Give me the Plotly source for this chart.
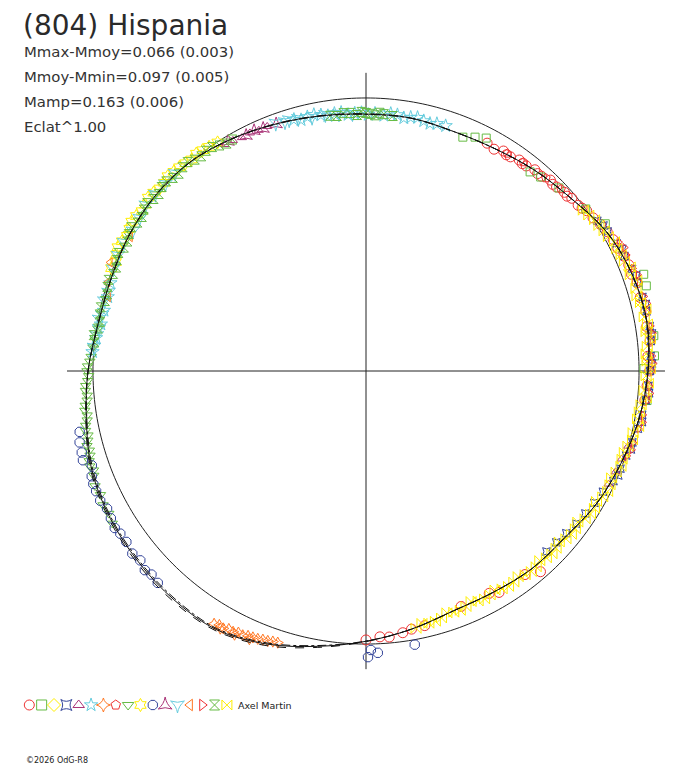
import numpy as np
import plotly.graph_objects as go

# polar light curve of (804) Hispania
# theta = rotational phase (deg), flux = relative brightness (Eclat^1.00)

title = '(804) Hispania'
stats = ['Mmax-Mmoy=0.066 (0.003)',
         'Mmoy-Mmin=0.097 (0.005)',
         'Mamp=0.163 (0.006)',
         'Eclat^1.00']
observer = 'Axel Martin'
credit = '\u00a92026 OdG-R8'

s01_theta = [62, 60, 58, 56, 54, 52, 50, 48, 46, 44, 42, 40, 38, 36, 34, 32, 30, 28, 26, 24, 22, 20,
             18, 15, 12, 9, 6, 3, 0, 357, 354, 311, 308, 301, 299, 292, 283, 280, 278, 275, 273, 270,
             57, 53, 49, 45, 41, 37]
s01_flux = [0.945, 0.938, 0.950, 0.946, 0.955, 0.953, 0.962, 0.960, 0.972, 0.970, 0.978, 0.984, 0.986,
            0.999, 1.003, 1.013, 1.020, 1.025, 1.026, 1.034, 1.038, 1.035, 1.044, 1.040, 1.048, 1.041,
            1.046, 1.034, 1.039, 1.031, 1.027, 0.974, 0.946, 0.946, 0.931, 0.930, 0.957, 0.960, 0.968,
            0.978, 0.975, 0.985, 0.944, 0.951, 0.958, 0.967, 0.976, 0.991]

s02_theta = [67.5, 65, 62.7, 50.5, 48, 43.5, 36.4, 31.6, 19.2, 16.9, 7, 3, 0.5, 354]
s02_flux = [0.927, 0.945, 0.960, 0.945, 0.956, 0.974, 1.000, 1.029, 1.077, 1.073, 1.062, 1.058, 1.018, 1.035]

s03_theta = [25, 21, 14, 8, 2]
s03_flux = [1.028, 1.033, 1.039, 1.040, 1.033]

s04_theta = [33, 30, 27, 24, 21, 18, 15, 12, 9, 6, 3, 0, 357, 354, 351, 348, 345, 342, 339, 336,
             333, 330, 327, 324, 321, 318, 315, 31.5, 25.5, 19.5, 13.5, 7.5, 1.5, 355.5, 349.5,
             343.5, 337.5]
s04_flux = [1.010, 1.022, 1.030, 1.036, 1.044, 1.046, 1.048, 1.050, 1.052, 1.049, 1.044, 1.040, 1.036,
            1.030, 1.024, 1.018, 1.010, 1.002, 0.998, 0.992, 0.974, 0.966, 0.958, 0.952, 0.944, 0.938,
            0.935, 1.020, 1.040, 1.050, 1.054, 1.056, 1.048, 1.040, 1.028, 1.012, 1.000]

s05_theta = [122, 120, 118, 116, 114, 112, 344, 341, 338, 335, 8, 2]
s05_flux = [0.978, 0.975, 0.968, 0.970, 0.965, 0.966, 0.999, 0.990, 0.986, 0.980, 1.050, 1.045]

s06_theta = [106, 103, 100, 97, 94, 91, 88, 86, 83, 80, 77, 74, 72, 176, 173, 170, 167, 164, 161,
             104.5, 101.5, 98.5, 95.5, 92.5, 89.5, 84.5, 81.5, 78.5, 75.5]
s06_flux = [0.958, 0.955, 0.952, 0.950, 0.941, 0.946, 0.944, 0.938, 0.945, 0.943, 0.940, 0.942, 0.944,
            1.004, 0.996, 0.986, 0.985, 0.984, 0.990, 0.950, 0.958, 0.945, 0.951, 0.945, 0.939, 0.947,
            0.937, 0.947, 0.936]

s07_theta = [239, 240, 241, 242, 243, 244, 245, 246, 247, 248, 249, 250, 251, 252, 240.5, 243.5, 246.5]
s07_flux = [1.080, 1.074, 1.078, 1.070, 1.072, 1.066, 1.068, 1.062, 1.060, 1.058, 1.054, 1.052, 1.048,
            1.046, 1.084, 1.079, 1.071]

s08_theta = [57, 53, 47, 43]
s08_flux = [0.950, 0.958, 0.966, 0.977]

s09_theta = [177, 179, 181, 183, 185, 187, 189, 191, 193, 195, 197, 199, 201, 203, 205, 207, 209, 211,
             150, 145, 140, 178, 180, 182, 184, 186, 188, 190, 192, 194, 196, 198, 200, 171, 173, 175]
s09_flux = [1.008, 1.020, 1.016, 1.028, 1.025, 1.036, 1.034, 1.046, 1.045, 1.058, 1.057, 1.070, 1.068,
            1.078, 1.073, 1.081, 1.077, 1.084, 1.004, 0.998, 1.008, 1.012, 1.022, 1.020, 1.030, 1.027,
            1.040, 1.037, 1.050, 1.050, 1.054, 1.066, 1.062, 0.994, 1.000, 1.004]

s10_theta = [158, 155, 152, 149, 146, 143, 140, 137, 134, 131, 128, 125, 123, 156.5, 153.5, 150.5,
             147.5, 144.5, 141.5, 138.5, 135.5, 132.5, 129.5, 126.5]
s10_flux = [1.006, 1.009, 1.012, 1.010, 1.015, 1.012, 1.016, 1.011, 1.014, 1.008, 1.010, 1.002, 0.998,
            1.000, 1.016, 1.005, 1.018, 1.008, 1.020, 1.009, 1.018, 1.012, 1.004, 1.006]

s11_theta = [192, 194, 196, 197.5, 199, 201, 202.5, 204, 206, 208, 210, 212, 213.5, 215.5, 218, 220,
             222, 223.5, 225.5, 270.4, 271, 272.4, 280.1]
s11_flux = [1.072, 1.081, 1.083, 1.087, 1.062, 1.076, 1.081, 1.082, 1.083, 1.074, 1.079, 1.085, 1.079,
            1.078, 1.086, 1.079, 1.090, 1.083, 1.088, 1.048, 1.022, 1.033, 1.018]

s12_theta = [121, 117, 115, 113, 110]
s12_flux = [0.980, 0.967, 0.970, 0.964, 0.962]

s13_theta = [108, 105, 102, 99, 96, 93, 175, 171, 168, 165, 158, 152, 146, 140, 134, 110, 107, 172.5,
             169, 163, 155, 149, 143, 137]
s13_flux = [0.960, 0.957, 0.950, 0.951, 0.947, 0.944, 1.000, 0.990, 0.988, 0.992, 0.998, 1.004, 1.000,
            1.007, 1.006, 0.966, 0.962, 0.994, 0.996, 0.986, 1.002, 0.996, 1.010, 1.004]

s14_theta = [150.4, 157, 164, 161]
s14_flux = [0.993, 1.018, 0.982, 1.000]

s15_theta = [27, 24, 21, 18, 15, 12, 9, 6, 3, 0, 357, 354, 351, 348, 345, 342, 25.5, 19.5, 13.5,
             7.5, 1.5, 355.5, 349.5, 343.5]
s15_flux = [1.040, 1.045, 1.048, 1.052, 1.055, 1.054, 1.056, 1.053, 1.050, 1.047, 1.040, 1.036, 1.028,
            1.022, 1.014, 1.006, 1.050, 1.057, 1.060, 1.060, 1.054, 1.045, 1.032, 1.016]

s16_theta = [98, 95, 92, 90, 88, 86, 84, 174, 171, 168, 165, 162, 159, 156, 153, 150, 147, 144, 141,
             138, 135, 132, 129, 126, 123, 120, 172.5, 169.5, 166.5, 163.5, 160.5, 157.5, 154.5,
             151.5, 148.5, 145.5, 142.5, 139.5, 136.5, 133.5, 130.5, 127.5, 124.5, 121.5, 96.5,
             93.5, 91, 89, 87]
s16_flux = [0.944, 0.948, 0.938, 0.945, 0.937, 0.943, 0.939, 1.000, 0.994, 0.997, 0.990, 0.996, 0.992,
            0.999, 0.995, 1.003, 0.998, 1.006, 1.001, 1.007, 1.000, 1.004, 0.996, 0.997, 0.985, 0.979,
            1.006, 0.990, 0.999, 0.988, 1.000, 0.990, 1.004, 0.994, 1.008, 0.996, 1.010, 0.998, 1.009,
            0.996, 1.006, 0.991, 0.995, 0.977, 0.940, 0.947, 0.949, 0.942, 0.947]

s17_theta = [35, 32, 29, 26, 23, 20, 17, 14, 11, 8, 5, 2, 359, 356, 353, 350, 347, 344, 341, 338, 335,
             332, 329, 326, 323, 320, 317, 314, 311, 308, 305, 302, 299, 296, 293, 290, 287, 284, 281,
             18.5, 12.5, 6.5, 0.5, 354.5, 348.5,
             333.5, 330.5, 327.5, 324.5, 321.5, 318.5, 315.5, 312.5, 309.5, 306.5, 303.5, 300.5,
             297.5, 294.5, 291.5, 288.5, 285.5, 282.5,
             36.5, 33.5, 30.5, 27.5, 24.5, 21.5, 15.5, 9.5, 3.5, 357.5, 351.5, 345.5, 342.5, 339.5,
             336.5]
s17_flux = [0.996, 1.006, 1.015, 1.022, 1.028, 1.030, 1.034, 1.036, 1.038, 1.036, 1.034, 1.030, 1.026,
            1.021, 1.015, 1.010, 1.004, 0.998, 0.992, 0.988, 0.986, 0.982, 0.976, 0.968, 0.960, 0.956,
            0.952, 0.951, 0.950, 0.947, 0.944, 0.941, 0.938, 0.937, 0.937, 0.940, 0.946, 0.952, 0.960,
            1.046, 1.050, 1.048, 1.041, 1.031, 1.019,
            0.989, 0.970, 0.975, 0.953, 0.961, 0.945, 0.955, 0.942, 0.952, 0.937, 0.946, 0.931,
            0.941, 0.928, 0.942, 0.934, 0.951, 0.947,
            0.990, 1.004, 1.012, 1.026, 1.027, 1.040, 1.030, 1.045, 1.028, 1.035, 1.012, 1.008, 0.992,
            0.997, 0.981]

# fitted curves (three solutions)
fit_theta = [0, 10, 20, 30, 40, 50, 60, 70, 80, 90, 100, 110, 120, 130, 140, 150, 160, 170, 180,
             190, 200, 210, 220, 230, 240, 250, 260, 270, 280, 290, 300, 310, 320, 330, 340, 350, 360]
fit_a = [1.033, 1.044, 1.037, 1.018, 0.982, 0.960, 0.941, 0.934, 0.941, 0.941, 0.949, 0.963, 0.982,
         1.000, 1.004, 1.000, 0.993, 0.996, 1.018, 1.040, 1.068, 1.081, 1.088, 1.094, 1.094, 1.064,
         1.024, 0.990, 0.960, 0.935, 0.935, 0.945, 0.950, 0.974, 0.993, 1.015, 1.033]
fit_b = [1.033, 1.044, 1.037, 1.018, 0.982, 0.960, 0.941, 0.934, 0.941, 0.942, 0.950, 0.964, 0.982,
         1.000, 1.004, 1.000, 0.993, 0.996, 1.018, 1.042, 1.072, 1.086, 1.094, 1.100, 1.099, 1.070,
         1.028, 0.991, 0.960, 0.935, 0.935, 0.945, 0.950, 0.974, 0.993, 1.015, 1.033]
fit_c = [1.033, 1.044, 1.037, 1.018, 0.982, 0.960, 0.941, 0.934, 0.940, 0.940, 0.948, 0.962, 0.982,
         1.000, 1.004, 1.000, 0.993, 0.996, 1.018, 1.038, 1.064, 1.077, 1.083, 1.089, 1.090, 1.060,
         1.021, 0.989, 0.960, 0.935, 0.935, 0.945, 0.950, 0.974, 0.993, 1.015, 1.033]

session_theta = [s01_theta, s02_theta, s03_theta, s04_theta, s05_theta, s06_theta, s07_theta,
                 s08_theta, s09_theta, s10_theta, s11_theta, s12_theta, s13_theta, s14_theta,
                 s15_theta, s16_theta, s17_theta]
session_flux = [s01_flux, s02_flux, s03_flux, s04_flux, s05_flux, s06_flux, s07_flux, s08_flux,
                s09_flux, s10_flux, s11_flux, s12_flux, s13_flux, s14_flux, s15_flux, s16_flux,
                s17_flux]

symbols = ['circle-open', 'square-open', 'diamond-open', 'star-square-open', 'triangle-up-open',
           'star-open', 'star-diamond-open', 'pentagon-open', 'triangle-down-open', 'hexagram-open',
           'octagon-open', 'star-triangle-up-open', 'star-triangle-down-open', 'triangle-left-open',
           'triangle-right-open', 'hourglass-open', 'bowtie-open']
colors = ['#ee3333', '#66bb44', '#ffee00', '#334499', '#aa3377', '#66ccdd', '#ff7722', '#ee3333',
          '#66bb44', '#ffee00', '#334499', '#aa3377', '#66ccdd', '#ff7722', '#ee3333', '#66bb44',
          '#ffee00']
sizes = [10, 8, 9, 7, 8, 10, 8, 9, 9, 10, 10, 9, 10, 8, 7, 9, 10]

# the page adds an 8 px body margin, so the figure is 8 px smaller and positions below are
# given in page pixels
W, H, OFF = 680, 760, 8


def px(x):
    return (x - OFF) / W


def py(y):
    return 1 - (y - OFF) / H


fig = go.Figure()

# mean brightness circle
circle_theta = np.arange(0, 361, 1)
fig.add_trace(go.Scatterpolar(r=np.ones(len(circle_theta)), theta=circle_theta, mode='lines',
                              line=dict(color='#222222', width=1), hoverinfo='skip'))

# cross hair through the centre
fig.add_trace(go.Scatterpolar(r=[1.095, 0, 1.095], theta=[0, 0, 180], mode='lines',
                              line=dict(color='#222222', width=1), hoverinfo='skip'))
fig.add_trace(go.Scatterpolar(r=[1.092, 0, 1.092], theta=[90, 90, 270], mode='lines',
                              line=dict(color='#222222', width=1), hoverinfo='skip'))

# observations, one trace per session
for i in range(len(session_theta)):
    fig.add_trace(go.Scatterpolar(r=session_flux[i], theta=session_theta[i], mode='markers',
                                  cliponaxis=False,
                                  marker=dict(symbol=symbols[i], color=colors[i], size=sizes[i],
                                              line=dict(width=1, color=colors[i]))))

# fits
for fit, dash in [(fit_a, 'solid'), (fit_b, 'dash'), (fit_c, 'dashdot')]:
    fig.add_trace(go.Scatterpolar(r=fit, theta=fit_theta, mode='lines',
                                  line=dict(color='#111111', width=1, dash=dash, shape='spline'),
                                  hoverinfo='skip'))

# symbol row at the bottom (session key)
fig.add_trace(go.Scatter(x=list(range(len(symbols))), y=[0] * len(symbols), mode='markers',
                         xaxis='x', yaxis='y',
                         marker=dict(symbol=symbols, color=colors, size=10,
                                     line=dict(width=1, color=colors))))

# title hangs from the top edge so its box is not clipped
annotations = [dict(text=title, x=px(22), y=1, xref='paper', yref='paper',
                    xanchor='left', yanchor='top', showarrow=False, borderpad=0,
                    font=dict(family='DejaVu Sans', size=28, color='#2a2a2a'))]
for k, line in enumerate(stats):
    annotations.append(dict(text=line, x=px(22), y=py(52 + 25 * k), xref='paper',
                            yref='paper', xanchor='left', yanchor='middle', showarrow=False,
                            font=dict(family='DejaVu Sans', size=14.9, color='#333333')))
annotations.append(dict(text=observer, x=px(236), y=py(705), xref='paper', yref='paper',
                        xanchor='left', yanchor='middle', showarrow=False,
                        font=dict(family='DejaVu Sans', size=9.5, color='#222222')))
annotations.append(dict(text=credit, x=px(24), y=py(760), xref='paper', yref='paper',
                        xanchor='left', yanchor='middle', showarrow=False,
                        font=dict(family='DejaVu Sans', size=8, color='#222222')))

R = 314  # pixel radius of the polar area (flux 1.15)
cx, cy = 366, 371  # centre of the diagram on the page

fig.update_layout(
    width=W, height=H,
    margin=dict(l=0, r=0, t=0, b=0),
    paper_bgcolor='white',
    plot_bgcolor='white',
    showlegend=False,
    polar=dict(
        domain=dict(x=[px(cx - R), px(cx + R)], y=[py(cy + R), py(cy - R)]),
        bgcolor='rgba(0,0,0,0)',
        radialaxis=dict(range=[0, 1.15], visible=False),
        angularaxis=dict(rotation=0, direction='counterclockwise', visible=False),
    ),
    xaxis=dict(domain=[0, 1], range=[(OFF - 29.3) / 12.35, (OFF + W - 29.3) / 12.35], visible=False),
    yaxis=dict(domain=[py(705) - 0.02, py(705) + 0.02], range=[-1, 1], visible=False),
    annotations=annotations,
)

fig.write_html('out.html')
